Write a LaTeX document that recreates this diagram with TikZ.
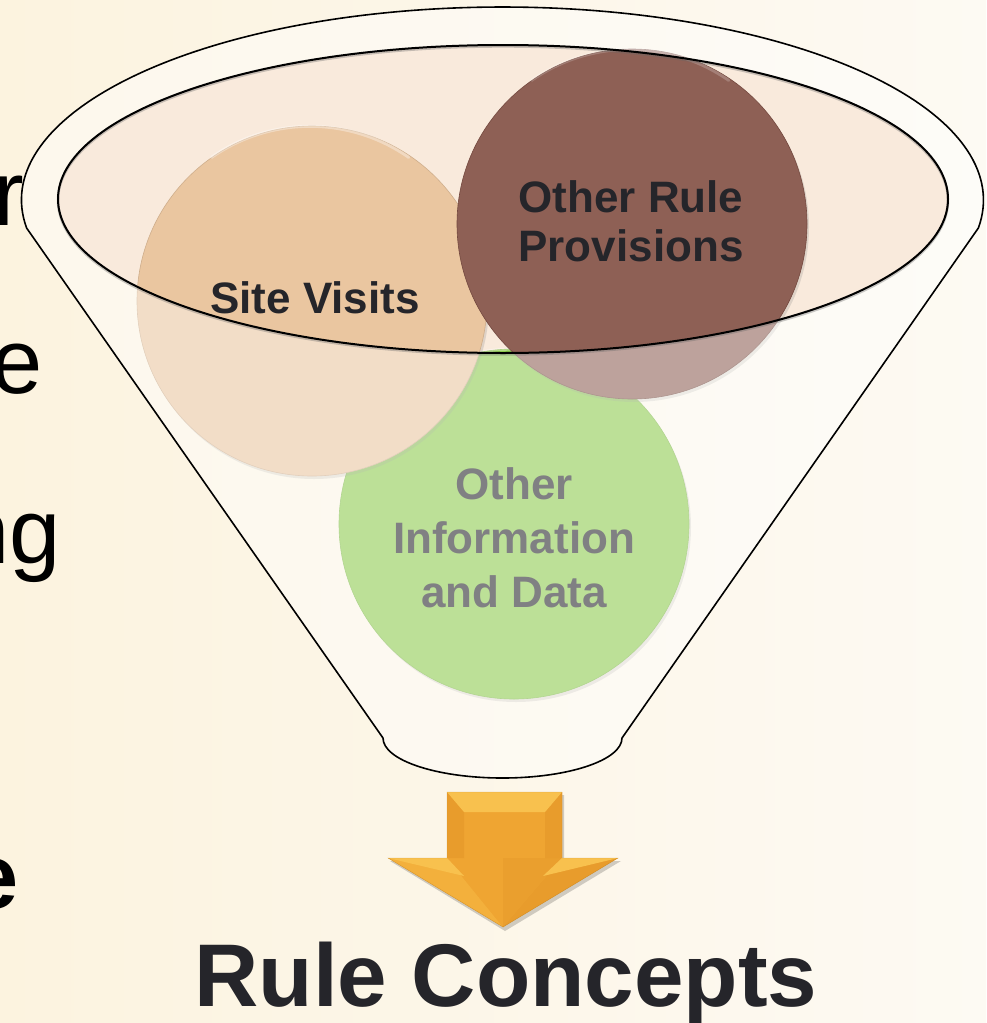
\documentclass[tikz,border=0pt]{standalone}
\usepackage{fontspec}
\setmainfont{Liberation Sans}
\usetikzlibrary{shadows}
\definecolor{bgA}{HTML}{FCF3DF}
\definecolor{bgB}{HTML}{FDFAF3}
\definecolor{rimpink}{HTML}{F9EADC}
\definecolor{peach}{HTML}{EAC6A0}
\definecolor{peachrim}{HTML}{CFAE8C}
\definecolor{brownc}{HTML}{8E6055}
\definecolor{brownrim}{HTML}{74493F}
\definecolor{greenc}{HTML}{8CCB4C}
\definecolor{greenrim}{HTML}{7DB844}
\definecolor{darktxt}{HTML}{25252A}
\definecolor{orA}{HTML}{EFA532}
\definecolor{orL}{HTML}{F8C14E}
\definecolor{orM}{HTML}{F3B03C}
\definecolor{orD}{HTML}{E89C2C}
\tikzset{
  bubble/.style={circle, minimum size=350pt, inner sep=0pt,
    drop shadow={opacity=0.22, shadow xshift=2pt, shadow yshift=-3pt}},
  lbl/.style={inner sep=0pt, text=darktxt, align=center,
    font=\bfseries\fontsize{44}{49}\selectfont},
  sidetxt/.style={inner sep=0pt, anchor=base east, text=black,
    font=\fontsize{92}{100}\selectfont},
  glint/.style={white, opacity=0.35, line width=3pt, line cap=round},
}
\def\funnelpath{(26.6,228) arc[start angle=171.66,end angle=368.34,x radius=481,y radius=193]
  -- (622,738) arc[start angle=0,end angle=180,x radius=119.5,y radius=40] -- cycle}
\begin{document}
\begin{tikzpicture}[x=1pt,y=-1pt]
\useasboundingbox (0,0) rectangle (986,1023);
\shade[shading angle=60, left color=bgA, right color=bgB] (0,0) rectangle (986,1023);

% text of the slide behind
\node[sidetxt] (t1) at (24,225) {r};
\node[sidetxt] (t2) at (43,393) {e};
\node[sidetxt] (t3) at (61,563) {ng};
\node[sidetxt, font=\bfseries\fontsize{92}{100}\selectfont] (t4) at (19,908) {e};

% back of funnel opening
\fill[rimpink] (503,199) ellipse[x radius=445,y radius=154];

% circles
\node[bubble, fill=greenc, draw=greenrim, line width=0.6pt] (oi) at (514,524) {};
\draw[glint] (oi.120) arc[start angle=240, end angle=300, radius=172];
\node[lbl, font=\bfseries\fontsize{44}{54}\selectfont] (oitxt) at (514,538) {Other\\Information\\and Data};
\node[bubble, fill=peach, draw=peachrim, line width=0.6pt] (sv) at (312,301) {};
\draw[glint] (sv.125) arc[start angle=235, end angle=305, radius=172];
\node[bubble, fill=brownc, draw=brownrim, line width=0.6pt] (orp) at (632,224) {};
\draw[glint, opacity=0.2] (orp.125) arc[start angle=235, end angle=305, radius=172];

% translucent front of funnel
\fill[white, opacity=0.42, even odd rule] \funnelpath (503,199) ellipse[x radius=445,y radius=154];

% outlines
\draw[black, line width=1.6pt, line join=round] \funnelpath;
\draw[black!60, opacity=0.35, line width=2.4pt] (503,200.5) ellipse[x radius=445,y radius=154];
\draw[black, line width=2pt] (503,199) ellipse[x radius=445,y radius=154];

% labels on top
\node[lbl, anchor=base] (svtxt) at (315,313) {Site Visits};
\node[lbl] (orptxt) at (631,221) {Other Rule\\Provisions};

% arrow
\fill[black, opacity=0.18] (449,795) -- (564,795) -- (564,861) -- (621,861) -- (505,931) -- (390,861) -- (449,861) -- cycle;
\fill[orA] (447,792) -- (562,792) -- (562,858) -- (618,858) -- (503,927) -- (388,858) -- (447,858) -- cycle;
\fill[orM] (447,858) -- (503,927) -- (388,858) -- cycle;
\fill[orD] (562,858) -- (618,858) -- (503,927) -- cycle;
\fill[orA] (447,858) -- (503,927) -- (503,858) -- cycle;
\fill[orD!70!orA] (562,858) -- (503,927) -- (503,858) -- cycle;
\fill[orD] (447,792) -- (464,812) -- (464,858) -- (447,858) -- cycle;
\fill[orD] (562,792) -- (545,812) -- (545,858) -- (562,858) -- cycle;
\fill[orL] (447,792) -- (562,792) -- (545,812) -- (464,812) -- cycle;
\fill[orL] (388,858) -- (447,858) -- (464,876) -- cycle;
\fill[orL] (618,858) -- (562,858) -- (543,876) -- cycle;
\draw[orD!80!black, line width=0.4pt, opacity=0.5] (447,792) -- (562,792) -- (562,858) -- (618,858) -- (503,927) -- (388,858) -- (447,858) -- cycle;

% title
\node[inner sep=0pt, anchor=base, text=darktxt, font=\bfseries\fontsize{89}{95}\selectfont] (rc) at (506,1006) {Rule Concepts};
\end{tikzpicture}
\end{document}
